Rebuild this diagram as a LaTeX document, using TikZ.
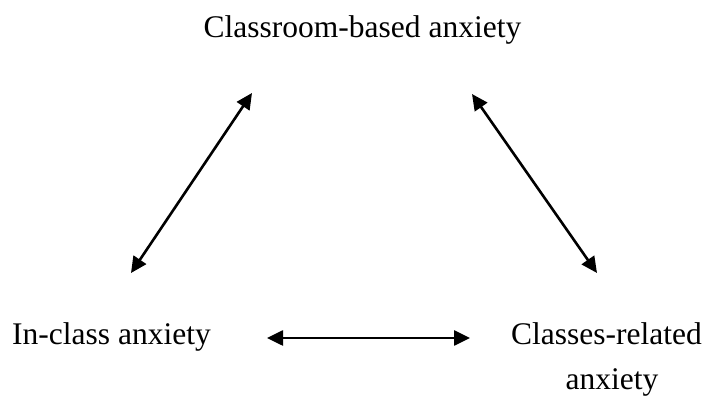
\documentclass[tikz,border=0pt]{standalone}
\usepackage{fontspec}
\setmainfont{Liberation Serif}
\usetikzlibrary{arrows.meta}
\begin{document}
\begin{tikzpicture}[x=1pt,y=-1pt,
  label/.style={inner sep=0pt, font=\fontsize{31.5}{36}\selectfont},
  link/.style={line width=2.6pt, {Triangle[length=16pt,width=15pt]}-{Triangle[length=16pt,width=15pt]}}]
  \useasboundingbox (0,0) rectangle (705,403);
  % the three kinds of anxiety
  \node[label, anchor=base] (top) at (362.5,38) {Classroom-based anxiety};
  \node[label, anchor=base west] (left) at (12,345) {In-class anxiety};
  \node[label, anchor=base west] (right) at (511,345) {Classes-related};
  \node[label, anchor=base] (right2) at (612,390) {anxiety};
  % arrow end points
  \coordinate (ltop) at (252,93);
  \coordinate (lbot) at (131,273);
  \coordinate (rtop) at (472,94);
  \coordinate (rbot) at (597,273);
  \coordinate (hl) at (267,338);
  \coordinate (hr) at (470,338);
  % two-way links
  \draw[link] (lbot) -- (ltop);
  \draw[link] (rtop) -- (rbot);
  \draw[link] (hl) -- (hr);
\end{tikzpicture}
\end{document}
